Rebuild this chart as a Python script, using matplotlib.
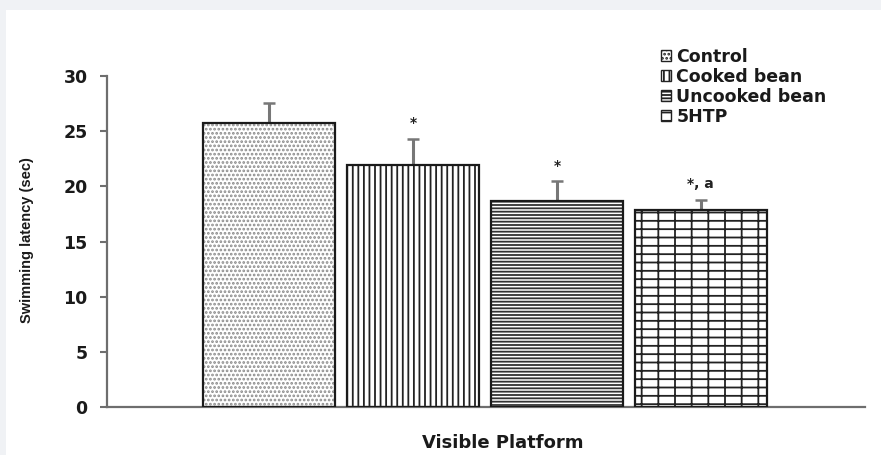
import matplotlib.pyplot as plt
from matplotlib.patches import Patch, Rectangle
import numpy as np

# latence de nage (s) - plateforme visible
groupes = ['Control', 'Cooked bean', 'Uncooked bean', '5HTP']
latence = [25.75, 21.95, 18.65, 17.9]
erreur = [1.8, 2.35, 1.8, 0.9]
signif = ['', '*', '*', '*, a']
motifs = ['....', '|||', '-----', '|--']
couleur_motif = ['#8a8a8a', '#222222', '#333333', '#222222']

plt.rcParams['hatch.linewidth'] = 1.3

fig = plt.figure(figsize=(8.81, 4.55), dpi=100, facecolor='#f0f2f5')
# fond blanc (bordure grise en haut et à gauche)
fig.patches.append(Rectangle((6/881, 0), 1, 1 - 10/455, transform=fig.transFigure,
                             facecolor='white', edgecolor='none', zorder=-5))

ax = fig.add_axes([107/881, 48/455, 758/881, 331/455])
ax.patch.set_alpha(0)

x = np.arange(len(groupes))
larg = 0.917
# motif puis contour par-dessus
for i in range(len(groupes)):
    ax.bar(x[i], latence[i], width=larg, color='white', hatch=motifs[i],
           edgecolor=couleur_motif[i], linewidth=0, zorder=2)
ax.bar(x, latence, width=larg, fill=False, edgecolor='#1a1a1a', linewidth=1.6, zorder=3)

ax.errorbar(x, latence, yerr=[np.zeros(len(x)), erreur], fmt='none',
            ecolor='#777777', elinewidth=2.2, capsize=4, capthick=1.8, zorder=1)

for i in range(len(groupes)):
    if signif[i]:
        ax.text(x[i], latence[i] + erreur[i] + 0.8, signif[i], ha='center', va='bottom',
                fontsize=10, fontweight='bold', family='DejaVu Sans', color='#222222')

ax.set_xlim(-1.125, 4.14)
ax.set_ylim(0, 30)
ax.set_yticks(range(0, 31, 5))
ax.set_xticks([])
for s in ['top', 'right']:
    ax.spines[s].set_visible(False)
for s in ['left', 'bottom']:
    ax.spines[s].set_color('#6e6e6e')
    ax.spines[s].set_linewidth(1.6)
ax.tick_params(axis='y', direction='out', length=5, width=1.5, color='#6e6e6e', pad=9)
for lab in ax.get_yticklabels():
    lab.set_fontsize(12.5)
    lab.set_fontweight('bold')
    lab.set_family('DejaVu Sans')
    lab.set_color('#1a1a1a')

fig.text(27/881, 1 - 240/455, 'Swimming latency (sec)', rotation=90, ha='center', va='center',
         fontsize=10.5, fontweight='bold', family='Liberation Sans', color='#1a1a1a')
fig.text(503/881, 1 - 443/455, 'Visible Platform', ha='center', va='center',
         fontsize=13, fontweight='bold', family='DejaVu Sans', color='#1a1a1a')

poignees = [Patch(facecolor='white', edgecolor='#222222', hatch=motifs[i], linewidth=1)
            for i in range(len(groupes))]
leg = fig.legend(poignees, groupes, loc='upper left', bbox_to_anchor=(652/881, 1 - 39/455),
                 frameon=False, handlelength=0.6, handleheight=0.6, handletextpad=0.3,
                 labelspacing=0.12, borderpad=0,
                 prop={'family': 'DejaVu Sans', 'weight': 'bold', 'size': 12.5})
for t in leg.get_texts():
    t.set_color('#1a1a1a')

fig.savefig('out.png', dpi=100, facecolor=fig.get_facecolor())
